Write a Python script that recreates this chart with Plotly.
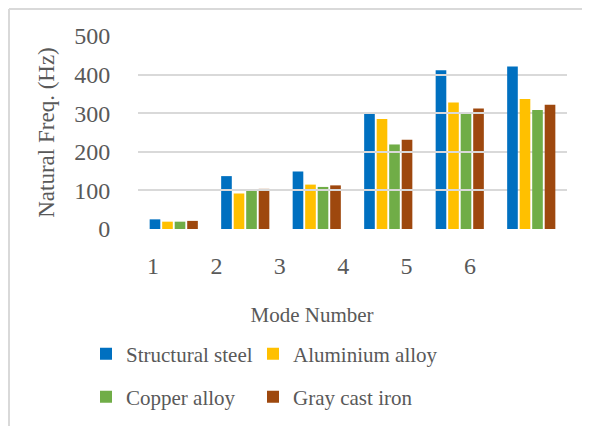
import plotly.graph_objects as go

modes = ["1", "2", "3", "4", "5", "6"]
structural_steel = [25, 137, 149, 300, 411, 421]
aluminium_alloy = [19, 92, 115, 285, 328, 337]
copper_alloy = [19, 100, 109, 219, 301, 308]
gray_cast_iron = [21, 104, 113, 231, 312, 322]
y_ticks = [0, 100, 200, 300, 400, 500]

series = [
    ("Structural steel", structural_steel, "#0070C0", "legend"),
    ("Aluminium alloy", aluminium_alloy, "#FFC000", "legend2"),
    ("Copper alloy", copper_alloy, "#70AD47", "legend3"),
    ("Gray cast iron", gray_cast_iron, "#9E480E", "legend4"),
]

FONT = "Liberation Serif"
TXT = "#595959"
GRID = "#D9D9D9"

fig = go.Figure()
for name, vals, col, leg in series:
    fig.add_trace(go.Bar(x=modes, y=vals, name=name, marker_color=col,
                         marker_line_width=0, legend=leg))

# invisible trace carrying the (offset) category tick labels
fig.add_trace(go.Scatter(x=modes, y=[0] * len(modes), xaxis="x2", yaxis="y",
                         mode="markers", opacity=0, showlegend=False,
                         hoverinfo="skip"))

W, H = 590, 426
OFF = 8  # page body margin offset (screen px)
# plot area in screen pixels
SX0, SX1, SY0, SY1 = 138, 567, 36, 229
L, T = SX0 - OFF, SY0 - OFF
R, B = W - (SX1 - OFF), H - (SY1 - OFF)
pw, ph = SX1 - SX0, SY1 - SY0

def px_x(p):
    return (p - SX0) / pw

def px_y(p):
    return (SY1 - p) / ph

leg_common = dict(orientation="h", yanchor="middle", xanchor="left",
                  font=dict(family=FONT, size=21, color=TXT),
                  bgcolor="rgba(0,0,0,0)", itemwidth=30)

LAB1, STEP, DOM_R = 153, 63.4, 486

fig.update_layout(
    width=W, height=H,
    margin=dict(l=L, r=R, t=T, b=B, autoexpand=False),
    paper_bgcolor="white", plot_bgcolor="rgba(0,0,0,0)",
    font=dict(family=FONT, color=TXT),
    barmode="group", bargap=0.30, bargroupgap=0.15,
    xaxis=dict(type="category", showticklabels=False, showgrid=False,
               zeroline=False, showline=False, ticks=""),
    xaxis2=dict(type="category", domain=[0, px_x(DOM_R)], anchor="y",
                range=[-(LAB1 - SX0) / STEP, (DOM_R - LAB1) / STEP],
                showgrid=False, zeroline=False, showline=False,
                ticks="outside", ticklen=15, tickcolor="rgba(0,0,0,0)",
                tickfont=dict(family=FONT, size=24, color=TXT),
                title=dict(text="Mode Number", standoff=29,
                           font=dict(family=FONT, size=21, color=TXT))),
    yaxis=dict(range=[0, 500], tickvals=y_ticks, showgrid=True,
               gridcolor=GRID, gridwidth=1.5, zeroline=False, showline=False,
               ticks="outside", ticklen=22, tickcolor="rgba(0,0,0,0)",
               tickfont=dict(family=FONT, size=24, color=TXT),
               title=dict(text="Natural Freq. (Hz)", standoff=13,
                          font=dict(family=FONT, size=23, color=TXT))),
    legend=dict(x=px_x(86), y=px_y(354), **leg_common),
    legend2=dict(x=px_x(253), y=px_y(354), **leg_common),
    legend3=dict(x=px_x(86), y=px_y(397), **leg_common),
    legend4=dict(x=px_x(253), y=px_y(397), **leg_common),
    shapes=[
        dict(type="line", xref="paper", yref="paper",
             x0=px_x(9), x1=px_x(640), y0=px_y(9), y1=px_y(9),
             line=dict(color=GRID, width=2)),
        dict(type="line", xref="paper", yref="paper",
             x0=px_x(9), x1=px_x(9), y0=px_y(9), y1=px_y(480),
             line=dict(color=GRID, width=2)),
    ],
)

fig.write_html("out.html")
